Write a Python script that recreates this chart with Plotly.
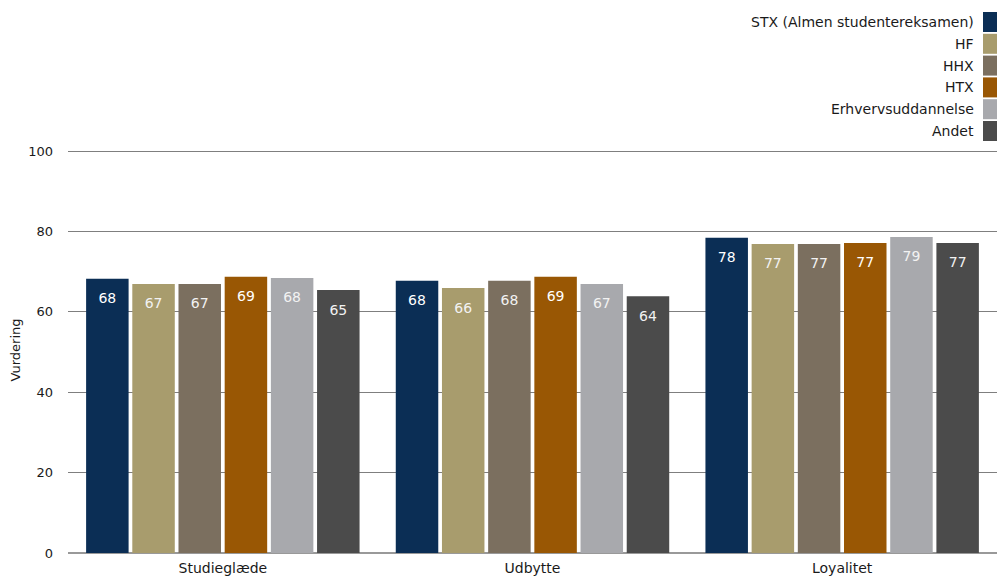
import plotly.graph_objects as go

categories = ["Studieglæde", "Udbytte", "Loyalitet"]
series_names = ["STX (Almen studentereksamen)", "HF", "HHX", "HTX", "Erhvervsuddannelse", "Andet"]
stx = [68.2, 67.7, 78.4]
hf = [66.9, 65.9, 76.9]
hhx = [66.9, 67.7, 76.9]
htx = [68.7, 68.7, 77.1]
erhverv = [68.4, 66.9, 78.6]
andet = [65.4, 63.9, 77.1]
series_values = [stx, hf, hhx, htx, erhverv, andet]
colors = ["#0B2E55", "#A89C6D", "#7B6F5F", "#995704", "#A8A9AD", "#4B4B4B"]
text_colors = ["#FFFFFF", "#F2F2F2", "#F2F2F2", "#FFFFFF", "#F2F2F2", "#F2F2F2"]
y_ticks = [0, 20, 40, 60, 80, 100]

FONT = "DejaVu Sans"
W, H = 997, 577
ML, MR, MT, MB = 68, 0, 147, 24
Y_MAX = 101
LABEL_DROP = 5.2  # label sits this many units below the bar top
GAP = 0.105

fig = go.Figure()
for name, vals, col in zip(series_names, series_values, colors):
    fig.add_trace(go.Bar(
        name=name, x=categories, y=vals, marker=dict(color=col, line=dict(width=0)),
        showlegend=False, hoverinfo="x+y",
    ))
for name, vals, tcol in zip(series_names, series_values, text_colors):
    fig.add_trace(go.Scatter(
        name=name, x=categories, y=[v - LABEL_DROP for v in vals], mode="text",
        text=[f"{v:.0f}" for v in vals], textposition="middle center",
        textfont=dict(family=FONT, size=14, color=tcol), showlegend=False, hoverinfo="skip",
    ))

# custom legend (text left of swatch, right aligned)
pw = W - ML - MR
ph = H - MT - MB
def px_to_paper(x, y):
    return (x - ML) / pw, (H - MB - y) / ph

shapes = []
annotations = []
for i, (name, col) in enumerate(zip(series_names, colors)):
    top = 12 + i * 21.8
    x0, y0 = px_to_paper(983, top)
    x1, y1 = px_to_paper(997, top + 20)
    shapes.append(dict(type="rect", xref="paper", yref="paper", x0=x0, x1=x1, y0=y1, y1=y0,
                       fillcolor=col, line=dict(width=0)))
    tx, ty = px_to_paper(976, top + 10)
    annotations.append(dict(xref="paper", yref="paper", x=tx, y=ty, xanchor="right", yanchor="middle",
                            text=name, showarrow=False, font=dict(family=FONT, size=14, color="#1A1A1A")))

fig.update_layout(
    width=W, height=H, margin=dict(l=ML, r=MR, t=MT, b=MB, pad=0),
    barmode="group", bargap=GAP, bargroupgap=0.08,
    scattermode="group", scattergap=GAP,
    plot_bgcolor="white", paper_bgcolor="white",
    font=dict(family=FONT, size=13, color="#1A1A1A"),
    shapes=shapes, annotations=annotations,
    xaxis=dict(showgrid=False, ticks="", showline=False, ticklabelstandoff=5,
               tickfont=dict(family=FONT, size=14, color="#1A1A1A")),
    yaxis=dict(range=[0, Y_MAX], tickvals=y_ticks, showgrid=True, gridcolor="#7F7F7F", gridwidth=1,
               zeroline=True, zerolinecolor="#999999", zerolinewidth=2, ticks="", showline=False,
               tickfont=dict(family=FONT, size=13, color="#1A1A1A"), ticklabelstandoff=14,
               title=dict(text="Vurdering", font=dict(family=FONT, size=13, color="#1A1A1A"), standoff=4)),
)

fig.write_html("out.html", config={"displayModeBar": False},
               post_script="document.body.style.margin='0';document.body.style.overflow='hidden';")
